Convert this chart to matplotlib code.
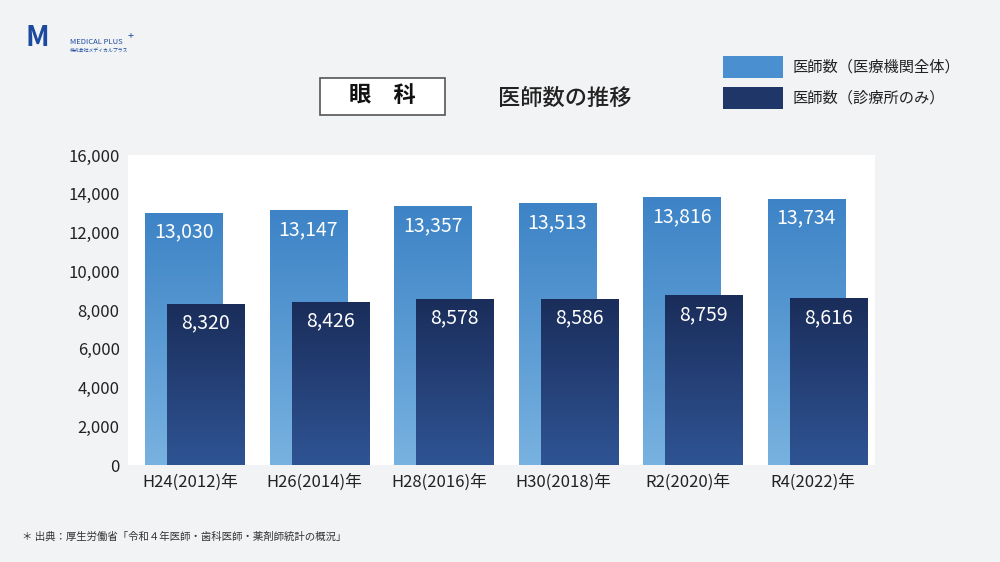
import matplotlib
matplotlib.use("Agg")
import matplotlib.pyplot as plt
import numpy as np
from matplotlib.patches import Rectangle

plt.rcParams['font.family'] = ['Noto Sans CJK JP']

categories = ["H24(2012)年", "H26(2014)年", "H28(2016)年", "H30(2018)年", "R2(2020)年", "R4(2022)年"]
total = [13030, 13147, 13357, 13513, 13816, 13734]
clinic = [8320, 8426, 8578, 8586, 8759, 8616]
yticks = [0, 2000, 4000, 6000, 8000, 10000, 12000, 14000, 16000]

fig = plt.figure(figsize=(10, 5.62), dpi=100)
fig.patch.set_facecolor("#f2f3f5")
ax = fig.add_axes([0.128, 1 - 465/562, 0.747, 310/562])
ax.set_facecolor("white")
ax.set_xlim(-0.5, 5.5)
ax.set_ylim(0, 16000)

def grad_bar(x0, w, h, ctop, cbot):
    g = np.linspace(0, 1, 256).reshape(-1, 1)
    ct = np.array(matplotlib.colors.to_rgb(ctop)); cb = np.array(matplotlib.colors.to_rgb(cbot))
    img = (cb[None, None, :] * (1 - g[..., None]) + ct[None, None, :] * g[..., None])
    im = ax.imshow(img, extent=[x0, x0 + w, 0, h], origin="lower", aspect="auto", zorder=2)
    r = Rectangle((x0, 0), w, h, transform=ax.transData, facecolor="none", edgecolor="none")
    ax.add_patch(r)
    im.set_clip_path(r)

w = 0.62
for i, t in enumerate(total):
    grad_bar(i - 0.363, w, t, "#3d83c6", "#78b2e0")
    ax.text(i - 0.363 + w/2, t - 1000, f"{t:,}", color="white", ha="center", va="center", fontsize=14, zorder=4)
for i, c in enumerate(clinic):
    grad_bar(i - 0.185, w, c, "#1a2d5a", "#2f5494")
    ax.text(i - 0.185 + w/2, c - 1000, f"{c:,}", color="white", ha="center", va="center", fontsize=14, zorder=4)
ax.set_xlim(-0.5, 5.5); ax.set_ylim(0, 16000)

ax.set_yticks(yticks)
ax.set_yticklabels([f"{v:,}" for v in yticks], fontsize=12, color="#222")
ax.set_xticks(range(6))
ax.set_xticklabels(categories, fontsize=12, color="#222")
ax.tick_params(length=0, pad=6)
for s in ax.spines.values():
    s.set_visible(False)

# title
fig.patches.append(Rectangle((320/1000, 1 - 115/562), 125/1000, 37/562, transform=fig.transFigure,
                             facecolor="white", edgecolor="#555", lw=1.2))
fig.text(0.3825, 1 - 96/562, "眼　科", fontsize=16, ha="center", va="center", fontweight="bold", color="#111")
fig.text(0.498, 1 - 98/562, "医師数の推移", fontsize=16, ha="left", va="center", color="#222", fontweight="medium")

# legend
for yy, c2, lab in [(67, "#4a8fd0", "医師数（医療機関全体）"), (98, "#1f3668", "医師数（診療所のみ）")]:
    fig.patches.append(Rectangle((723/1000, 1 - (yy + 11)/562), 60/1000, 22/562, transform=fig.transFigure,
                                 facecolor=c2, edgecolor="none"))
    fig.text(0.793, 1 - yy/562, lab, fontsize=11, va="center", color="#222")

# logo
fig.text(0.025, 1 - 38/562, "M", fontsize=20, color="#1c4aa0", fontstyle="italic", fontweight="bold", va="center")
fig.text(0.07, 1 - 42/562, "MEDICAL PLUS", fontsize=5.5, color="#1c4aa0", va="center")
fig.text(0.128, 1 - 36/562, "+", fontsize=8, color="#1c4aa0", va="center")
fig.text(0.07, 1 - 50/562, "株式会社メディカルプラス", fontsize=3.5, color="#1c4aa0", va="center")

fig.text(0.022, 1 - 537/562, "＊ 出典：厚生労働省「令和４年医師・歯科医師・薬剤師統計の概況」", fontsize=7.5, color="#333", va="center")

fig.savefig("out.png", dpi=100, facecolor=fig.get_facecolor())
